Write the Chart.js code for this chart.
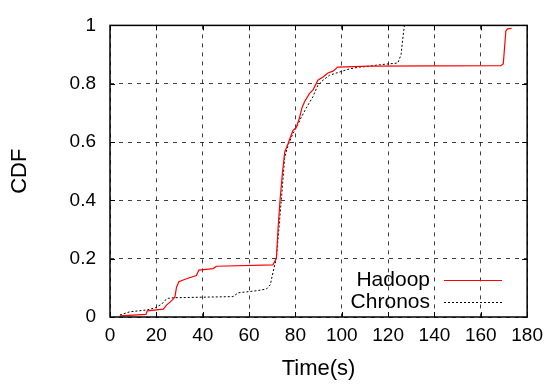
<!DOCTYPE html>
<html>
<head>
<meta charset="utf-8">
<script src="https://cdn.jsdelivr.net/npm/chart.js@4/dist/chart.umd.min.js"></script>
<style>
  html, body { margin: 0; padding: 0; background: #ffffff; }
  canvas { display: block; }
</style>
</head>
<body>
<canvas id="c" width="550" height="387"></canvas>
<script>
// ---- data ----
const seriesNames = ["Hadoop", "Chronos"];

const hadoopTime = [4.3, 15.5, 16.1, 23.0, 24.4, 26.6, 28.0, 28.7, 29.7, 33.0, 37.3, 38.3, 44.5, 45.9, 70.3, 71.8, 72.5, 73.4, 74.4, 75.4, 76.8, 78.9, 80.4, 81.8, 82.8, 84.0, 86.1, 87.6, 89.7, 91.9, 94.0, 96.2, 98.3, 112.0, 168.7, 169.7, 170.8, 171.5, 173.3];
const hadoopCdf  = [0.004, 0.009, 0.021, 0.027, 0.041, 0.056, 0.068, 0.102, 0.121, 0.131, 0.142, 0.161, 0.166, 0.174, 0.179, 0.202, 0.30, 0.404, 0.493, 0.566, 0.594, 0.639, 0.650, 0.684, 0.717, 0.739, 0.767, 0.779, 0.812, 0.823, 0.837, 0.843, 0.857, 0.860, 0.862, 0.868, 0.980, 0.988, 0.990];

const chronosTime = [4.3, 8.6, 15.8, 19.4, 22.3, 23.7, 25.1, 27.3, 40.2, 53.1, 55.3, 63.2, 67.5, 69.2, 70.3, 71.8, 73.9, 75.4, 76.8, 78.9, 80.4, 82.5, 84.7, 87.6, 89.7, 91.9, 94.7, 99.0, 103.4, 107.7, 112.0, 116.3, 124.2, 125.6, 126.3, 127.0];
const chronosCdf  = [0.007, 0.018, 0.024, 0.031, 0.044, 0.057, 0.064, 0.066, 0.068, 0.070, 0.083, 0.090, 0.096, 0.111, 0.152, 0.202, 0.400, 0.549, 0.588, 0.628, 0.650, 0.684, 0.717, 0.756, 0.795, 0.812, 0.829, 0.840, 0.851, 0.857, 0.860, 0.865, 0.871, 0.900, 0.952, 0.998];

const xTicks = [0, 20, 40, 60, 80, 100, 120, 140, 160, 180];
const yTicks = [0, 0.2, 0.4, 0.6, 0.8, 1];
const yTickLabels = ["0", "0.2", "0.4", "0.6", "0.8", "1"];
const xTitle = "Time(s)";
const yTitle = "CDF";

// ---- build points ----
function pts(xs, ys) { return xs.map((x, i) => ({ x: x, y: ys[i] })); }

const FONT = "'Liberation Sans', Arial, Helvetica, sans-serif";

// frame + inward ticks (gnuplot style)
const framePlugin = {
  id: 'frame',
  afterDatasetsDraw(chart) {
    const { ctx, chartArea: a, scales } = chart;
    ctx.save();
    ctx.strokeStyle = '#000';
    ctx.lineWidth = 1;
    ctx.setLineDash([]);
    const tl = 5;
    xTicks.forEach(v => {
      const px = Math.round(scales.x.getPixelForValue(v)) + 0.5;
      ctx.beginPath();
      ctx.moveTo(px, a.bottom); ctx.lineTo(px, a.bottom - tl);
      ctx.moveTo(px, a.top); ctx.lineTo(px, a.top + tl);
      ctx.stroke();
    });
    yTicks.forEach(v => {
      const py = Math.round(scales.y.getPixelForValue(v)) + 0.5;
      ctx.beginPath();
      ctx.moveTo(a.left, py); ctx.lineTo(a.left + tl, py);
      ctx.moveTo(a.right, py); ctx.lineTo(a.right - tl, py);
      ctx.stroke();
    });
    ctx.lineWidth = 1.5;
    ctx.strokeRect(a.left, a.top, a.right - a.left, a.bottom - a.top);
    ctx.restore();
  }
};

// in-plot legend, bottom right (text right aligned, then line sample)
const legendPlugin = {
  id: 'keybox',
  afterDraw(chart) {
    const { ctx } = chart;
    ctx.save();
    ctx.font = "21px " + FONT;
    ctx.fillStyle = '#000';
    ctx.textAlign = 'right';
    ctx.textBaseline = 'middle';
    const textRight = 430, lineL = 444, lineR = 502;
    const rows = [280, 302];
    chart.data.datasets.forEach((ds, i) => {
      const y = rows[i];
      ctx.fillText(ds.label, textRight, y);
      ctx.beginPath();
      ctx.strokeStyle = ds.borderColor;
      ctx.lineWidth = ds.borderWidth;
      ctx.setLineDash(ds.borderDash || []);
      ctx.moveTo(lineL, y + 0.5); ctx.lineTo(lineR, y + 0.5);
      ctx.stroke();
    });
    ctx.restore();
  }
};

new Chart(document.getElementById('c'), {
  type: 'scatter',
  data: {
    datasets: [
      {
        label: seriesNames[0],
        data: pts(hadoopTime, hadoopCdf),
        showLine: true,
        borderColor: '#ff0000',
        borderWidth: 1.2,
        pointRadius: 0,
        tension: 0
      },
      {
        label: seriesNames[1],
        data: pts(chronosTime, chronosCdf),
        showLine: true,
        borderColor: '#000000',
        borderWidth: 1,
        borderDash: [2, 2],
        pointRadius: 0,
        tension: 0
      }
    ]
  },
  options: {
    responsive: false,
    animation: false,
    devicePixelRatio: 1,
    layout: { padding: { left: 0, right: 22, top: 19, bottom: 0 } },
    plugins: { legend: { display: false }, tooltip: { enabled: false } },
    scales: {
      x: {
        type: 'linear',
        min: 0, max: 180,
        afterBuildTicks(scale) { scale.ticks = xTicks.map(v => ({ value: v })); },
        afterFit(scale) { scale.height = 70; },
        ticks: {
          color: '#000',
          font: { family: FONT, size: 19 },
          padding: 7,
          maxRotation: 0,
          autoSkip: false
        },
        grid: { color: 'rgba(0,0,0,0.75)', lineWidth: 1, drawTicks: false },
        border: { display: false, dash: [4, 5] },
        title: {
          display: true, text: xTitle, color: '#000',
          font: { family: FONT, size: 22 },
          padding: { top: 0, bottom: 5 }
        }
      },
      y: {
        type: 'linear',
        min: 0, max: 1,
        afterBuildTicks(scale) { scale.ticks = yTicks.map(v => ({ value: v })); },
        afterFit(scale) { scale.width = 110; },
        ticks: {
          color: '#000',
          font: { family: FONT, size: 19 },
          padding: 14,
          autoSkip: false,
          callback: (v) => { const i = yTicks.indexOf(v); return i >= 0 ? yTickLabels[i] : ''; }
        },
        grid: { color: 'rgba(0,0,0,0.75)', lineWidth: 1, drawTicks: false },
        border: { display: false, dash: [4, 5] },
        title: {
          display: true, text: yTitle, color: '#000',
          font: { family: FONT, size: 22 },
          padding: { top: 7, bottom: 0 }
        }
      }
    }
  },
  plugins: [framePlugin, legendPlugin]
});
</script>
</body>
</html>
